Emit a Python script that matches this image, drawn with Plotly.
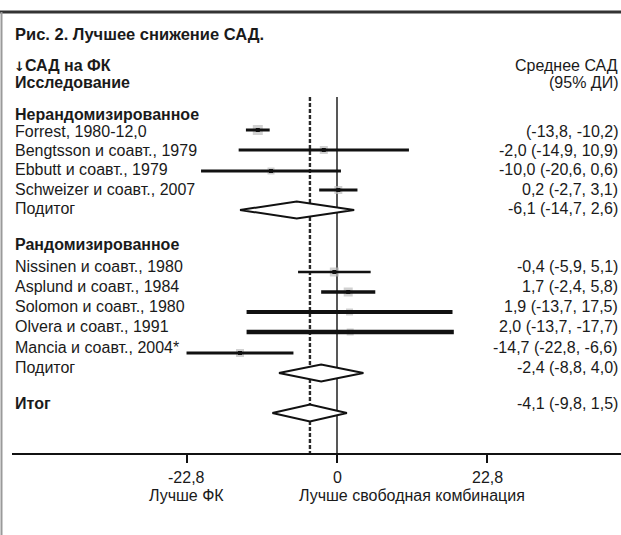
import plotly.graph_objects as go

# ---- data ----
title = "Рис. 2. Лучшее снижение САД."
head_left = ["↓САД на ФК", "Исследование"]
head_right = ["Среднее САД", "(95% ДИ)"]

group_names = ["Нерандомизированное", "Рандомизированное"]

studies = [
    "Forrest, 1980-12,0",
    "Bengtsson и соавт., 1979",
    "Ebbutt и соавт., 1979",
    "Schweizer и соавт., 2007",
    "Nissinen и соавт., 1980",
    "Asplund и соавт., 1984",
    "Solomon и соавт., 1980",
    "Olvera и соавт., 1991",
    "Mancia и соавт., 2004*",
]
study_mean = [-12.0, -2.0, -10.0, 0.2, -0.4, 1.7, 1.9, 2.0, -14.7]
study_lo = [-13.8, -14.9, -20.6, -2.7, -5.9, -2.4, -13.7, -13.7, -22.8]
study_hi = [-10.2, 10.9, 0.6, 3.1, 5.1, 5.8, 17.5, 17.7, -6.6]
study_text = [
    "(-13,8, -10,2)",
    "-2,0 (-14,9, 10,9)",
    "-10,0 (-20,6, 0,6)",
    "0,2 (-2,7, 3,1)",
    "-0,4 (-5,9, 5,1)",
    "1,7 (-2,4, 5,8)",
    "1,9 (-13,7, 17,5)",
    "2,0 (-13,7, -17,7)",
    "-14,7 (-22,8, -6,6)",
]

pooled_names = ["Подитог", "Подитог", "Итог"]
pooled_mean = [-6.1, -2.4, -4.1]
pooled_lo = [-14.7, -8.8, -9.8]
pooled_hi = [2.6, 4.0, 1.5]
pooled_text = ["-6,1 (-14,7, 2,6)", "-2,4 (-8,8, 4,0)", "-4,1 (-9,8, 1,5)"]

tick_vals = [-22.8, 0, 22.8]
tick_text = ["-22,8", "0", "22,8"]
favours = ["Лучше ФК", "Лучше свободная комбинация"]

# ---- layout (pixel positions of rows and frame) ----
W, H = 621, 535
PX_PER_UNIT = 6.6
ZERO_PX = 337
AXIS_PX = 453
AXIS_LEFT_PX = 12
LINES_TOP_PX = 97

group_text_y = [114, 245]
study_text_y = [131, 150, 169, 189, 266, 286, 306, 326, 347]
study_mark_y = [130, 150, 171, 190, 272, 292, 312, 332, 353]
pooled_text_y = [208, 367, 403]
pooled_bold = [False, False, True]
pooled_mark_y = [210, 373, 413]
study_line_w = [3, 3, 3, 3, 2.5, 3.5, 4, 4.5, 3]
study_box = [10, 8, 7, 8, 9, 9, 7, 7, 8]
DIAMOND_HALF = 8.5

FONT = "Liberation Sans, Arial, sans-serif"
INK = "#1a1a1a"
FS = 16


def px_x(p):
    return p / W


def px_y(p):
    return 1 - p / H


fig = go.Figure()

# weight boxes behind the interval lines
fig.add_trace(go.Scatter(
    x=study_mean, y=study_mark_y, mode="markers",
    marker=dict(symbol="square", size=study_box, color="#bdbdbd", line=dict(width=0)),
    hoverinfo="skip", showlegend=False))

# confidence intervals
for lo, hi, y, w in zip(study_lo, study_hi, study_mark_y, study_line_w):
    fig.add_trace(go.Scatter(
        x=[lo, hi], y=[y, y], mode="lines",
        line=dict(color="#111111", width=w),
        hoverinfo="skip", showlegend=False))

# point estimates
fig.add_trace(go.Scatter(
    x=study_mean, y=study_mark_y, mode="markers",
    marker=dict(symbol="square", size=4, color="#111111"),
    hoverinfo="skip", showlegend=False))

# pooled diamonds
for m, lo, hi, y in zip(pooled_mean, pooled_lo, pooled_hi, pooled_mark_y):
    fig.add_trace(go.Scatter(
        x=[lo, m, hi, m, lo],
        y=[y, y - DIAMOND_HALF, y, y + DIAMOND_HALF, y],
        mode="lines", fill="toself", fillcolor="white",
        line=dict(color="#111111", width=2),
        hoverinfo="skip", showlegend=False))

shapes = [
    # overall effect (dashed) and line of no effect
    dict(type="line", xref="x", yref="y", x0=pooled_mean[-1], x1=pooled_mean[-1],
         y0=LINES_TOP_PX, y1=AXIS_PX, line=dict(color="#2a2a2a", width=2.4, dash="4px,2px"), layer="below"),
    dict(type="line", xref="x", yref="y", x0=0, x1=0,
         y0=LINES_TOP_PX, y1=AXIS_PX, line=dict(color="#111111", width=1.4), layer="below"),
    # frame
    dict(type="line", xref="paper", yref="paper", x0=0, x1=1, y0=px_y(12), y1=px_y(12),
         line=dict(color="#333333", width=3)),
    dict(type="line", xref="paper", yref="paper", x0=px_x(1.5), x1=px_x(1.5), y0=px_y(12), y1=0,
         line=dict(color="#9a9a9a", width=2)),
]

ann = []


def text(s, xp, yp, anchor="left", size=FS, bold=False):
    ann.append(dict(
        text=f"<b>{s}</b>" if bold else s, xref="paper", yref="paper",
        x=px_x(xp), y=px_y(yp), xanchor=anchor, yanchor="middle", showarrow=False,
        font=dict(family=FONT, size=size, color=INK)))


def arrow_first(s):
    # the arrow glyph is taken from DejaVu Sans, the rest from the main font
    return f"<span style='font-family:DejaVu Sans;font-size:13px'>{s[0]}</span>{s[1:]}"


text(title, 13, 34, size=16.5, bold=True)
text(arrow_first(head_left[0]), 12, 65, bold=True)
text(head_left[1], 13, 82, bold=True)
text(head_right[0], 620, 65, anchor="right")
text(head_right[1], 620, 82, anchor="right")

for s, y in zip(group_names, group_text_y):
    text(s, 13, y, bold=True)
for s, t, y in zip(studies, study_text, study_text_y):
    text(s, 13, y)
    text(t, 620, y, anchor="right")
for s, t, y, b in zip(pooled_names, pooled_text, pooled_text_y, pooled_bold):
    text(s, 13, y, bold=b)
    text(t, 620, y, anchor="right")

for v, s in zip(tick_vals, tick_text):
    text(s, ZERO_PX + v * PX_PER_UNIT, 477, anchor="center")
text(favours[0], ZERO_PX + tick_vals[0] * PX_PER_UNIT, 495, anchor="center")
text(favours[1], ZERO_PX + (tick_vals[1] + tick_vals[2]) / 2 * PX_PER_UNIT, 495, anchor="center")

fig.update_layout(
    width=W, height=H, margin=dict(l=0, r=0, t=0, b=0),
    paper_bgcolor="white", plot_bgcolor="white",
    showlegend=False, shapes=shapes, annotations=ann,
    xaxis=dict(
        domain=[AXIS_LEFT_PX / W, 1],
        range=[(AXIS_LEFT_PX - ZERO_PX) / PX_PER_UNIT, (W - ZERO_PX) / PX_PER_UNIT],
        showgrid=False, zeroline=False,
        showline=True, linecolor="#111111", linewidth=2,
        ticks="outside", ticklen=8, tickwidth=2, tickcolor="#111111",
        tickvals=tick_vals, showticklabels=False, fixedrange=True),
    yaxis=dict(
        domain=[1 - AXIS_PX / H, 1], range=[AXIS_PX, 0],
        visible=False, fixedrange=True),
)

fig.write_html("out.html")
